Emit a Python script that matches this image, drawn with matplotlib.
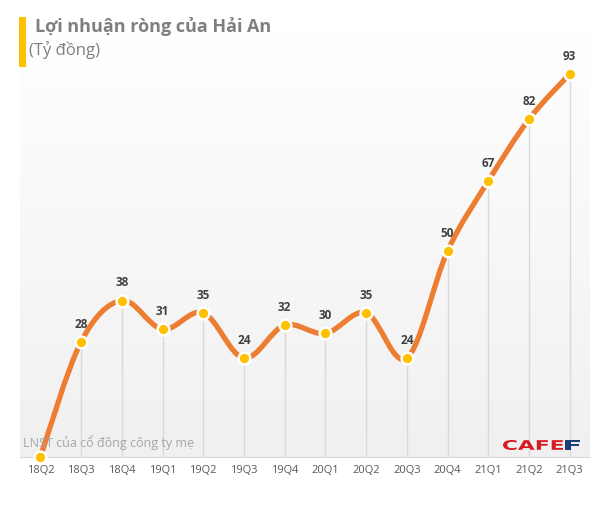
import matplotlib
matplotlib.use("Agg")
import matplotlib.pyplot as plt
import numpy as np
from matplotlib.path import Path
from matplotlib.patches import PathPatch, Rectangle
from matplotlib.textpath import TextPath
from matplotlib.font_manager import FontProperties
from matplotlib.transforms import Affine2D, IdentityTransform

quarters = ["18Q2", "18Q3", "18Q4", "19Q1", "19Q2", "19Q3", "19Q4",
            "20Q1", "20Q2", "20Q3", "20Q4", "21Q1", "21Q2", "21Q3"]
profit = [0, 28, 38, 31, 35, 24, 32, 30, 35, 24, 50, 67, 82, 93]
labels = ["", "28", "38", "31", "35", "24", "32", "30", "35", "24", "50", "67", "82", "93"]

plt.rcParams['font.family'] = ['Open Sans', 'DejaVu Sans']

W, H = 608, 508
fig = plt.figure(figsize=(W / 100, H / 100), dpi=100)
ax = fig.add_axes([20 / W, (H - 457) / H, 570 / W, (457 - 30) / H])

x = np.arange(len(profit))
y = np.array(profit, dtype=float)
ax.set_xlim(-0.5, len(profit) - 0.5)
ax.set_ylim(0, (457 - 30) / 4.118)

# gradient background
grad = np.linspace(0, 1, 256).reshape(-1, 1)
ax.imshow(grad, extent=[0, 1, 0, 1], transform=ax.transAxes, aspect='auto',
          cmap=matplotlib.colors.LinearSegmentedColormap.from_list("g", ["#f0f0f0", "#ffffff"]),
          origin='lower', zorder=0)

# drop lines
ax.vlines(x, 0, y, color="#d9d9d9", linewidth=1, zorder=1)

# smooth line (Catmull-Rom -> Bezier)
pts = np.column_stack([x, y])
ext = np.vstack([pts[0], pts, pts[-1]])
verts = [tuple(pts[0])]
codes = [Path.MOVETO]
for i in range(len(pts) - 1):
    p0, p1, p2, p3 = ext[i], ext[i + 1], ext[i + 2], ext[i + 3]
    c1 = p1 + (p2 - p0) / 6
    c2 = p2 - (p3 - p1) / 6
    verts += [tuple(c1), tuple(c2), tuple(p2)]
    codes += [Path.CURVE4] * 3
ax.add_patch(PathPatch(Path(verts, codes), facecolor='none', edgecolor="#ed7d31",
                       linewidth=3.8, capstyle='round', zorder=2))

ax.plot(x, y, linestyle='none', marker='o', markersize=8.5, markerfacecolor="#ffc000",
        markeredgecolor="white", markeredgewidth=1.8, zorder=3, clip_on=False)

for xi, yi, lab in zip(x, y, labels):
    if lab:
        ax.annotate(lab, (xi, yi), xytext=(0, 8), textcoords='offset points',
                    ha='center', va='bottom', fontsize=8.5, fontweight='bold', color="#404040")

for s in ["top", "right", "left"]:
    ax.spines[s].set_visible(False)
ax.spines["bottom"].set_color("#d9d9d9")
ax.set_yticks([])
ax.set_xticks(x)
ax.set_xticklabels(quarters, fontsize=8, color="#595959")
ax.tick_params(axis='x', length=0, pad=6)

# title block
fig.patches.append(Rectangle((19 / W, 1 - 67 / H), 7 / W, 50 / H, transform=fig.transFigure,
                             facecolor="#ffc000", edgecolor='none'))
fig.text(35 / W, 1 - 27 / H, "Lợi nhuận ròng của Hải An", fontsize=13, fontweight='bold',
         color="#7f7f7f", va='center', ha='left')
fig.text(29 / W, 1 - 50 / H, "(Tỷ đồng)", fontsize=12, color="#7f7f7f", va='center', ha='left')

fig.text(23 / W, 1 - 443 / H, "LNST của cổ đông công ty mẹ", fontsize=9, color="#a6a6a6",
         va='center', ha='left')

# logo: wide block letters, stretched horizontally
fp = FontProperties(family='DejaVu Sans', weight='heavy')
def logo_part(txt, x0, x1, color):
    tp = TextPath((0, 0), txt, size=10, prop=fp)
    ext_ = tp.get_extents()
    sx = (x1 - x0) / ext_.width
    sy = 10 / ext_.height
    tr = Affine2D().translate(-ext_.x0, -ext_.y0).scale(sx, sy).translate(x0, H - 450)
    fig.patches.append(PathPatch(tr.transform_path(tp), transform=IdentityTransform(),
                                 facecolor=color, edgecolor='none', figure=fig))

logo_part("CAFE", 503, 563, "#d71920")
logo_part("F", 565, 580, "#1c3f74")

fig.savefig("out.png", dpi=100)
